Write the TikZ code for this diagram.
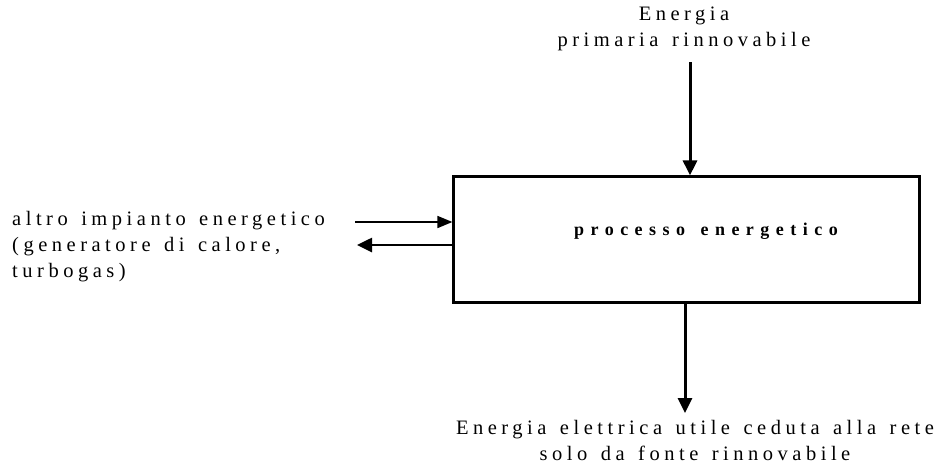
\documentclass[tikz,border=0pt]{standalone}
\usepackage{fontspec}
\usepackage{tikz}
\usetikzlibrary{arrows.meta}
\setmainfont{Liberation Serif}
\newfontfamily\spacedfont[LetterSpace=22, WordSpace=1.4]{Liberation Serif}
\newfontfamily\spacedbold[LetterSpace=36, WordSpace=1.4]{Liberation Serif Bold}

\begin{document}
\begin{tikzpicture}[x=1pt, y=-1pt,
    label text/.style={font=\fontsize{20.5}{26}\spacedfont, inner sep=0pt, align=center},
    flow/.style={-{Triangle[length=15pt, width=14pt]}, line width=3pt},
    thin flow/.style={-{Triangle[length=15pt, width=12pt]}, line width=1.6pt}]

\useasboundingbox (0, 0) rectangle (942, 464);

% Box
\node[draw, line width=2.2pt, minimum width=466pt, minimum height=126pt, inner sep=0pt] (proc) at (686.5, 239.5) {};
\node[font=\fontsize{18}{20}\spacedbold] (proctext) at (706, 231) {processo energetico};

% Top input
\node[label text] (src) at (684, 29) {Energia\\primaria rinnovabile};
\coordinate (srctop) at (690, 62);
\draw[flow] (srctop) -- (srctop |- proc.north);

% Bottom output
\node[label text] (out) at (695, 440) {Energia elettrica utile ceduta alla rete\\solo da fonte rinnovabile};
\coordinate (outtip) at (685, 413);
\draw[flow] (outtip |- proc.south) -- (outtip);

% Left exchange
\node[label text, align=left, anchor=west] (other) at (12, 247) {altro impianto energetico\\(generatore di calore,\\turbogas)};
\coordinate (inend) at (355, 222);
\coordinate (outend) at (357, 245);
\draw[thin flow] (inend) -- (inend -| proc.west);
\draw[flow, line width=2.6pt] (outend -| proc.west) -- (outend);

\end{tikzpicture}
\end{document}
